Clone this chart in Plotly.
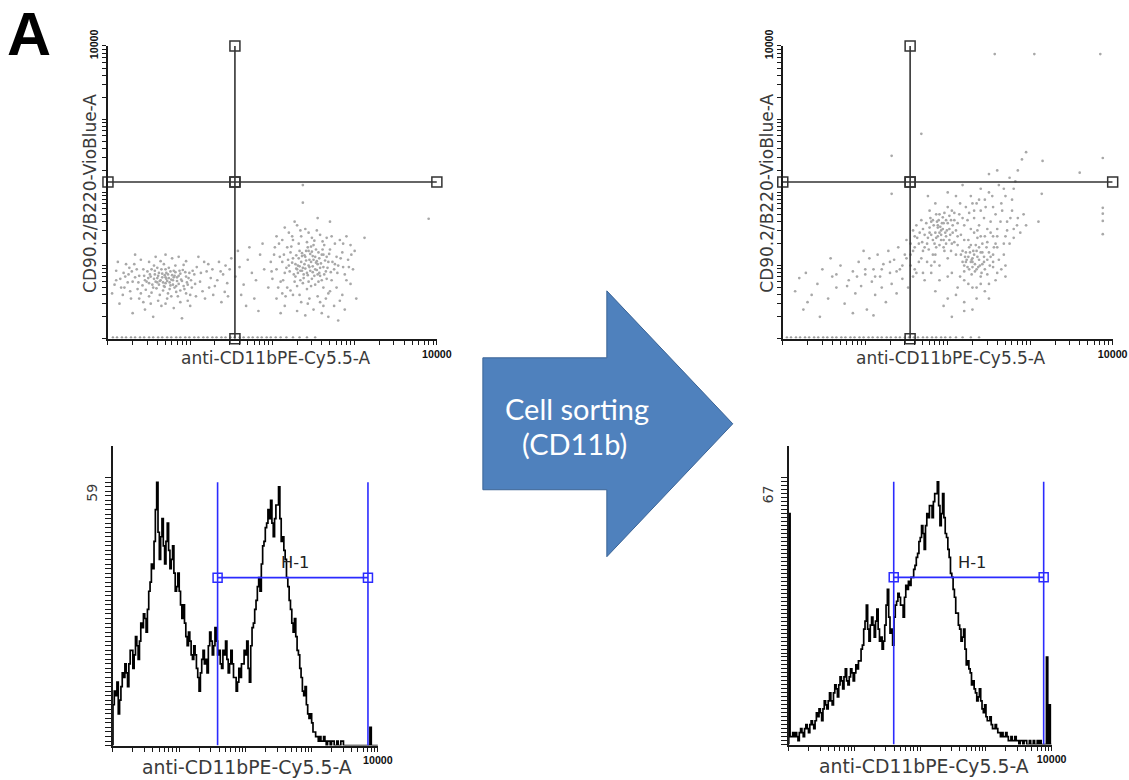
import numpy as np
import plotly.graph_objects as go

W, H = 1129, 780

# ---------------- data ----------------
# flow-cytometry events, (log10 CD11b, log10 CD90.2/B220)
before_events = [
    (0.45,0.80),(0.52,0.85),(0.58,0.78),(0.62,0.90),(0.66,0.84),(0.70,0.76),(0.73,0.88),(0.77,0.81),
    (0.80,0.93),(0.83,0.72),(0.86,0.86),(0.90,0.79),(0.94,0.91),(0.98,0.83),(0.55,0.70),(0.60,0.97),
    (0.68,1.02),(0.75,0.68),(0.82,1.00),(0.88,0.66),(0.48,0.92),(0.42,0.73),(0.38,0.86),(0.35,0.95),
    (0.30,0.78),(0.25,0.88),(0.20,0.70),(0.15,0.82),(0.10,0.93),(0.08,0.74),(0.18,0.60),(0.28,0.55),
    (0.40,0.62),(0.50,0.58),(0.63,0.60),(0.72,0.55),(0.85,0.58),(0.95,0.62),(1.02,0.70),(1.05,0.88),
    (1.08,0.98),(1.12,0.78),(1.15,0.65),(1.20,0.92),(1.25,0.83),(1.30,0.72),(1.35,1.05),(1.40,0.88),
    (1.45,0.76),(1.48,0.95),(0.65,0.45),(0.45,0.40),(0.80,0.42),(0.30,0.35),(1.00,0.45),(0.22,1.02),
    (0.40,1.08),(0.58,1.12),(0.78,1.10),(0.95,1.06),(1.10,1.12),(0.33,1.15),(0.12,1.05),(0.62,0.74),
    (0.70,0.95),(0.57,0.88),(0.79,0.74),(0.92,0.72),(0.67,0.66),(0.53,0.95),(0.74,0.83),(0.60,0.83),
    (0.84,0.79),(0.50,0.76),(0.69,0.87),(0.87,0.93),(0.44,0.86),(0.96,0.77),(1.18,0.55),(1.28,0.60),
    (0.05,0.62),(0.14,0.48),(0.55,0.30),(0.90,0.28),(1.38,0.50),(0.36,0.68),(0.26,0.97),(1.22,1.02),
    (1.42,0.64),(1.50,1.10),(0.64,0.80),(0.71,0.82),(0.76,0.92),(0.56,0.82),(0.81,0.86),(0.68,0.72),
    (0.47,0.78),(0.51,0.88),(0.54,0.74),(0.57,0.93),(0.59,0.69),(0.61,0.86),(0.63,0.79),(0.65,0.95),
    (0.67,0.77),(0.69,0.71),(0.71,0.90),(0.72,0.79),(0.74,0.97),(0.76,0.73),(0.78,0.87),(0.79,0.80),
    (0.81,0.70),(0.82,0.91),(0.84,0.84),(0.86,0.75),(0.88,0.89),(0.89,0.81),(0.91,0.94),(0.93,0.68),
    (0.95,0.85),(0.97,0.74),(0.99,0.90),(1.01,0.80),(1.03,0.93),(1.06,0.75),(0.43,0.95),(0.46,0.67),
    (0.49,0.83),(0.53,0.63),(0.56,1.00),(0.64,1.06),(0.73,0.62),(0.83,0.64),(0.92,1.01),(1.00,0.60),
    (0.37,0.77),(0.33,0.84),(0.29,0.92),(0.24,0.77),(0.19,0.90),(0.60,0.77),(0.70,0.84),(0.80,0.84),
    (0.66,0.89),(0.75,0.77),
    (0.10,0.80),(0.16,0.70),(0.21,0.85),(0.27,0.65),(0.32,1.02),(0.38,0.55),(0.43,0.50),(0.52,0.48),
    (0.61,0.52),(0.70,0.48),(0.77,0.58),(0.88,0.50),(0.97,0.52),(1.07,0.58),(1.13,0.90),(1.17,1.05),
    (1.23,0.70),(1.27,0.95),(1.33,0.80),(1.37,0.92),(1.43,1.00),(1.46,0.58),(0.50,1.05),(0.86,1.12),
    (0.70,1.15),
    (1.55,0.85),(1.60,0.98),(1.65,0.74),(1.70,1.08),(1.75,0.90),(1.80,0.80),(1.85,1.15),(1.90,0.95),
    (1.62,0.60),(1.78,0.55),(1.95,0.70),(1.58,1.20),(1.72,1.25),(1.88,1.30),(1.68,0.45),(1.83,0.38),
    (1.98,1.05),
    (2.20,1.00),(2.25,1.10),(2.30,0.95),(2.35,1.05),(2.40,1.12),(2.45,0.98),(2.50,1.08),(2.55,1.02),
    (2.60,1.15),(2.65,0.92),(2.28,0.85),(2.38,0.88),(2.48,0.82),(2.58,0.86),(2.68,1.05),(2.33,1.20),
    (2.43,1.25),(2.53,1.22),(2.63,1.28),(2.22,1.18),(2.15,0.90),(2.12,1.05),(2.10,0.78),(2.18,0.70),
    (2.30,0.72),(2.42,0.68),(2.52,0.74),(2.62,0.70),(2.72,0.80),(2.75,0.95),(2.78,1.12),(2.70,1.22),
    (2.80,1.00),(2.85,1.18),(2.88,0.88),(2.92,1.08),(2.95,1.28),(2.05,0.95),(2.02,1.15),(2.00,0.82),
    (2.08,1.30),(2.25,1.35),(2.35,1.40),(2.48,1.38),(2.58,1.42),(2.20,1.45),(2.30,1.55),(2.40,1.50),
    (2.15,1.52),(2.27,1.60),(2.45,0.55),(2.35,0.50),(2.55,0.58),(2.25,0.60),(2.65,0.55),(2.15,0.45),
    (2.50,0.40),(2.40,0.32),(2.60,0.35),(2.75,0.45),(2.05,0.55),(2.85,0.60),(2.95,0.75),(2.98,0.95),
    (2.37,0.97),(2.47,1.05),(2.42,0.90),(2.52,0.95),(2.57,1.10),(2.32,1.10),(2.46,1.16),(2.39,1.02),
    (2.55,0.88),(2.44,0.78),(2.62,0.98),(2.34,0.80),(2.28,1.02),(2.50,1.28),(2.66,1.12),(2.60,0.80),
    (2.70,0.65),(2.18,1.25),(2.12,0.62),(2.82,1.35),(2.90,1.40),(2.72,1.40),(2.05,1.40),(2.10,0.35),
    (2.30,0.38),(2.68,0.30),(2.80,0.25),(2.88,0.40),(3.00,1.20),(3.02,0.55),(2.41,1.07),(2.49,1.13),
    (2.36,0.93),(2.53,1.04),(2.44,1.20),(2.31,1.00),
    (2.21,0.92),(2.24,1.04),(2.26,0.88),(2.29,1.14),(2.31,0.90),(2.33,0.99),(2.36,1.13),(2.38,0.83),
    (2.40,0.96),(2.41,1.20),(2.43,0.87),(2.45,1.08),(2.46,0.93),(2.48,1.19),(2.49,0.99),(2.51,0.86),
    (2.52,1.12),(2.54,0.94),(2.56,1.18),(2.57,0.90),(2.59,1.03),(2.61,1.22),(2.63,0.88),(2.64,1.07),
    (2.67,0.97),(2.69,1.16),(2.71,0.91),(2.73,1.05),(2.23,1.26),(2.27,0.78),(2.32,1.30),(2.37,0.76),
    (2.42,1.32),(2.47,0.72),(2.51,1.34),(2.56,0.78),(2.61,1.33),(2.66,0.82),(2.19,1.08),(2.17,0.97),
    (2.14,1.15),(2.76,1.02),(2.79,0.90),(2.83,1.10),(2.86,0.98),(2.39,1.14),(2.44,1.00),(2.34,0.93),
    (2.54,1.06),(2.49,0.91),(2.58,0.97),(2.29,0.96),(2.62,1.15),(2.47,1.26),(2.36,1.17),
    (2.07,0.70),(2.13,0.80),(2.22,0.66),(2.33,0.60),(2.43,0.48),(2.58,0.50),(2.68,0.62),(2.78,0.70),
    (2.90,0.80),(2.93,0.98),(2.96,1.15),(2.86,1.30),(2.76,1.30),(2.66,1.38),(2.54,1.48),(2.44,1.45),
    (2.34,1.48),(2.24,1.40),(2.12,1.35),(2.03,1.25),(1.99,0.92),(2.09,1.12),(2.16,0.58),(2.62,0.45),
    (2.82,0.52),
    (2.37,2.10),(2.37,1.86),(3.90,1.64),(3.12,1.38),(2.70,1.60),(2.55,1.65),
]
before_baseline_cd11b = [0.06,0.11,0.17,0.22,0.28,0.33,0.39,0.44,0.50,0.55,0.61,0.66,0.72,0.77,0.83,
                         0.88,0.94,0.99,1.05,1.10,1.16,1.21,1.27,1.32,1.38,1.43,1.49,1.54,1.60,1.65,
                         1.71,1.76,1.82,1.87,1.93,1.98,2.04,2.10,2.17,2.25,2.33,2.42,2.52]

after_events = [
    (0.20,0.83),(0.28,0.90),(0.35,0.60),(0.42,0.75),(0.48,0.95),(0.55,0.55),(0.60,0.85),(0.65,0.70),
    (0.70,1.00),(0.75,0.48),(0.80,0.80),(0.85,0.92),(0.88,0.62),(0.92,1.05),(0.95,0.72),(1.00,0.88),
    (1.02,0.40),(1.05,1.10),(1.08,0.78),(1.10,0.95),(1.12,0.60),(1.15,1.15),(1.18,0.85),(1.20,0.70),
    (1.22,1.02),(1.25,0.50),(1.28,1.20),(1.30,0.90),(1.32,0.75),(1.35,1.08),(1.38,0.62),(1.40,1.25),
    (1.42,0.95),(1.45,0.82),(1.48,1.15),(1.50,1.35),(1.52,0.70),(0.45,0.30),(0.85,0.35),(1.10,0.32),
    (0.30,0.50),(0.58,1.10),(0.98,1.20),(0.15,0.65),(0.25,0.40),
    (1.55,1.00),(1.58,1.20),(1.60,1.40),(1.62,0.90),(1.65,1.30),(1.68,1.10),(1.70,1.50),(1.72,1.25),
    (1.75,1.05),(1.78,1.45),(1.80,1.60),(1.82,1.35),(1.85,1.15),(1.88,1.55),(1.90,1.70),(1.92,1.42),
    (1.95,1.25),(1.98,1.62),(2.00,1.80),(2.02,1.50),(2.05,1.30),(2.08,1.72),(2.10,1.15),(2.12,1.40),
    (2.15,1.85),(2.18,1.20),(2.20,1.55),(2.22,1.05),(2.25,1.35),(2.28,1.95),(2.30,1.10),(2.32,1.45),
    (2.35,0.95),(2.38,1.25),(2.40,1.75),(2.42,1.02),(2.45,1.40),(2.48,0.88),(2.50,1.18),(2.52,1.60),
    (2.55,0.98),(2.58,1.30),(2.60,1.50),(2.62,1.08),(2.65,1.85),(1.88,1.52),(1.92,1.48),(1.95,1.58),
    (1.85,1.45),(1.98,1.40),(2.25,1.12),(2.28,1.05),(2.32,1.15),(2.35,1.20),(2.22,1.18),(2.30,0.98),
    (2.38,1.08),(2.20,1.00),(1.75,1.30),(1.70,1.20),(1.65,1.05),(1.60,0.95),(1.72,0.80),(1.80,0.90),
    (1.90,1.00),(2.00,1.10),(2.05,0.90),(2.15,0.85),(2.25,0.75),(2.35,0.70),(2.45,0.65),(2.10,0.60),
    (2.20,0.50),(2.30,0.40),(1.95,0.45),(2.05,0.30),(2.40,0.85),(2.50,0.75),(2.55,1.40),(2.60,1.25),
    (2.68,1.15),(2.70,1.40),(2.72,1.60),(2.75,1.30),(2.78,1.75),(2.80,1.50),(2.85,1.65),(2.88,1.45),
    (2.92,1.70),(2.95,1.55),(2.45,1.90),(2.50,2.00),(2.55,1.80),(2.35,1.85),(2.40,2.05),(2.62,2.10),
    (2.70,1.95),(2.75,2.20),(2.80,2.05),(2.85,2.30),(2.90,2.45),(2.95,2.55),(2.60,2.30),(2.50,2.25),
    (2.10,1.95),(2.00,2.00),(2.18,2.10),(1.85,1.85),(1.78,1.75),(1.68,1.62),(1.62,1.55),(1.58,1.48),
    (1.55,1.30),(2.48,1.50),(2.42,1.30),(2.38,1.55),(2.32,1.65),(2.26,1.72),(2.18,1.65),(2.12,1.58),
    (2.06,1.45),(2.02,1.35),(1.96,1.20),(1.90,1.28),(1.84,1.05),(2.44,1.12),(2.36,1.38),(2.28,1.50),
    (2.55,1.15),(2.65,0.95),(2.70,0.85),(2.58,0.80),(1.91,1.53),(1.87,1.60),(2.29,1.08),(2.33,1.02),
    (2.26,0.95),(1.94,1.66),(2.04,1.62),(2.40,1.18),
    (1.80,1.42),(1.83,1.55),(1.86,1.38),(1.89,1.62),(1.92,1.35),(1.94,1.50),(1.97,1.45),(2.00,1.58),
    (2.03,1.42),(2.06,1.55),(1.82,1.62),(1.86,1.70),(1.90,1.45),(1.93,1.58),(1.96,1.72),(1.99,1.48),
    (2.02,1.68),(1.78,1.52),(1.76,1.38),(1.84,1.30),(1.88,1.40),(2.08,1.62),(2.10,1.48),(1.95,1.35),
    (2.05,1.75),
    (2.18,1.05),(2.21,1.12),(2.24,0.98),(2.27,1.18),(2.30,1.05),(2.33,0.92),(2.36,1.12),(2.39,1.00),
    (2.42,1.18),(2.45,0.95),(2.48,1.08),(2.51,1.00),(2.20,0.92),(2.26,1.25),(2.34,1.28),(2.41,0.90),
    (2.47,1.25),(2.52,1.12),(2.23,1.08),(2.31,1.20),(2.37,0.98),(2.44,1.05),(2.29,0.88),(2.16,1.15),
    (2.55,1.05),
    (1.50,1.10),(1.55,1.15),(1.60,1.25),(1.63,1.38),(1.66,1.45),(1.69,1.32),(1.72,1.42),(1.74,1.58),
    (1.77,1.22),(1.79,1.65),(1.82,1.15),(1.86,1.25),(1.98,1.30),(2.04,1.20),(2.08,1.32),(2.12,1.28),
    (2.14,1.70),(2.16,1.42),(2.20,1.35),(2.24,1.62),(2.28,1.28),(2.32,1.75),(2.36,1.48),(2.40,1.40),
    (2.44,1.65),(2.48,1.32),(2.52,1.45),(2.56,1.25),(2.60,1.40),(2.64,1.60),(2.68,1.30),(2.72,1.48),
    (2.76,1.65),(2.80,1.38),(2.84,1.55),(2.38,1.90),(2.30,1.85),(2.22,1.80),(2.46,1.80),(2.58,1.70),
    (2.66,1.75),(2.54,1.95),(2.68,2.05),(2.78,1.90),(2.82,2.15),(2.20,0.80),(2.30,0.70),(2.40,0.75),
    (2.12,0.70),(2.00,0.85),(1.90,0.80),(1.80,1.00),(1.70,0.90),(1.58,0.85),(1.45,1.00),(1.38,0.92),
    (1.30,1.05),(1.20,0.95),(1.12,0.85),(1.00,0.95),(0.90,0.85),(0.78,0.72),(0.65,0.88),(2.50,0.55),
    (2.35,0.55),(2.20,0.38),(2.00,0.55),(1.85,0.65),(2.60,0.90),(2.70,1.00),
    (2.57,3.89),(3.05,3.89),(3.85,3.89),(3.88,2.47),(3.88,1.79),(3.88,1.71),(3.88,1.61),(3.88,1.43),
    (1.68,2.80),(1.32,2.50),(3.60,2.27),(3.15,2.43),(1.32,1.98),(1.76,1.95),(3.14,1.98),(3.10,1.60),
]
after_baseline_cd11b = [0.05,0.10,0.16,0.21,0.27,0.32,0.38,0.43,0.49,0.54,0.60,0.65,0.71,0.76,0.82,
                        0.87,0.93,0.98,1.04,1.09,1.15,1.20,1.26,1.31,1.37,1.42,1.48,1.53,1.59,1.64,
                        1.70,1.75,1.81,1.86,1.92,1.97,2.03,2.10,2.18,2.28,2.38]
baseline_log_cd90 = 0.02

# quadrant gate (channel values)
quad_gate_cd11b = 35
quad_gate_cd90 = 139

# histograms: counts in 200 equal log-width bins between 10^0 and 10^4
hist_before_counts = [
    9,12, 11,14, 7,10, 13,16, 15,18, 16,13, 18,21, 21,17, 20,24, 22,19,
    23,27, 26,29, 28,25, 30,34, 36,40, 39,45, 52,58, 47,41, 46,50, 44,40,
    45,49, 43,39, 41,44, 38,34, 35,38, 34,31, 28,31, 27,24, 22,25, 23,20,
    19,22, 20,17, 15,12, 16,19, 21,18, 19,16, 22,25, 23,20, 22,26, 23,20,
    21,18, 17,21, 20,23, 19,16, 18,21, 18,15, 15,12, 14,17, 15,18, 18,21,
    20,23, 17,14, 22,26, 27,30, 32,35, 37,34, 40,44, 45,48, 49,52, 50,54,
    49,46, 50,53, 53,57, 50,45, 46,43, 41,37, 35,32, 30,27, 25,28, 24,21,
    20,17, 15,12, 11,13, 9,7, 6,7, 5,3, 3,2, 2,1, 2,1, 1,2,
    1,0, 1,1, 0,1, 1,0, 0,1, 0,0, 1,1, 0,0, 0,0, 0,0,
    0,0, 0,0, 0,0, 0,0, 0,0, 0,0, 0,0, 4,0, 0,0, 0,0,
]
hist_after_counts = [
    58,2, 2,3, 2,3, 2,1, 3,4, 3,2, 4,5, 4,3, 5,6, 5,4,
    6,8, 7,9, 8,6, 9,11, 10,9, 11,13, 11,10, 13,15, 14,12, 15,17,
    16,14, 17,19, 16,15, 17,19, 18,16, 18,20, 19,21, 21,24, 25,29, 31,35,
    29,26, 30,32, 30,27, 31,34, 29,26, 27,24, 26,30, 35,39, 32,28, 29,25,
    32,35, 36,38, 37,35, 35,32, 37,40, 39,41, 40,42, 42,44, 45,47, 48,51,
    52,55, 53,49, 55,58, 57,60, 60,57, 61,63, 63,66, 60,55, 58,63, 57,53,
    52,49, 47,43, 42,39, 37,33, 33,30, 29,26, 27,29, 24,20, 21,19, 18,15,
    16,14, 13,11, 12,14, 11,9, 8,10, 7,6, 6,7, 5,4, 4,5, 4,3,
    3,2, 3,2, 2,3, 2,1, 1,2, 1,1, 2,1, 1,0, 1,1, 0,1,
    1,0, 0,1, 0,0, 1,0, 0,1, 0,1, 0,0, 0,0, 22,0, 10,0,
]
hist_before_max = 59
hist_after_max = 67
# histogram marker gates H-1: (low, high, level, top)
hist_before_gate = (38, 7080, 37, 58)
hist_after_gate = (39.5, 7550, 42, 66)

x_title = "anti-CD11bPE-Cy5.5-A"
y_title = "CD90.2/B220-VioBlue-A"
end_tick_label = "10000"
gate_label = "H-1"
arrow_lines = ["Cell sorting", "(CD11b)"]
panel_label = "A"

# ---------------- helpers ----------------
# the page is photographed slightly scaled (about 0.987 x 0.98) and 15 px lower;
# these converters map target picture pixels to paper fractions
SX, SY, OY = 0.987, 0.98, 15.0
FS = 1 / 0.983


def px(x):
    return (x / SX) / W


def py(y):
    return 1 - ((y - OY) / SY) / H


log_tick_vals = [m * 10 ** d for d in range(4) for m in range(1, 10)] + [10000]
log_tick_text = [""] * (len(log_tick_vals) - 1) + [end_tick_label]

DARK = "#1a1a1a"
GATE = "#333333"
BLUE = "#2b2bff"
DOT = "#a8a8a8"

fig = go.Figure()


def add_dotplot(events, baseline, xa, ya):
    fig.add_trace(go.Scatter(
        x=[10 ** e[0] for e in events], y=[10 ** e[1] for e in events],
        mode="markers", marker=dict(size=2.7, color=DOT),
        xaxis=xa, yaxis=ya, showlegend=False, hoverinfo="skip"))
    fig.add_trace(go.Scatter(
        x=[10 ** b for b in baseline], y=[10 ** baseline_log_cd90] * len(baseline),
        mode="markers", marker=dict(size=2.4, color="#9a9a9a"),
        xaxis=xa, yaxis=ya, showlegend=False, hoverinfo="skip"))
    sq = dict(symbol="square-open", size=10, color=GATE, line=dict(width=1.5, color=GATE))
    fig.add_trace(go.Scatter(
        x=[quad_gate_cd11b] * 3, y=[1, quad_gate_cd90, 10000],
        mode="lines+markers", line=dict(color=GATE, width=1.6), marker=sq,
        xaxis=xa, yaxis=ya, cliponaxis=False, showlegend=False, hoverinfo="skip"))
    fig.add_trace(go.Scatter(
        x=[1, quad_gate_cd11b, 10000], y=[quad_gate_cd90] * 3,
        mode="lines+markers", line=dict(color=GATE, width=1.6), marker=sq,
        xaxis=xa, yaxis=ya, cliponaxis=False, showlegend=False, hoverinfo="skip"))


def add_histogram(counts, gate, xa, ya):
    edges = np.logspace(0, 4, len(counts) + 1)
    xs = [edges[0]] + list(edges[:-1]) + [edges[-1], edges[-1]]
    ys = [0] + list(counts) + [counts[-1], 0]
    fig.add_trace(go.Scatter(
        x=xs, y=ys, mode="lines", line=dict(color="black", width=1.7, shape="hv"),
        xaxis=xa, yaxis=ya, showlegend=False, hoverinfo="skip", cliponaxis=False))
    lo, hi, level, top = gate
    for gx in (lo, hi):
        fig.add_trace(go.Scatter(
            x=[gx, gx], y=[0, top], mode="lines", line=dict(color=BLUE, width=1.6),
            xaxis=xa, yaxis=ya, showlegend=False, hoverinfo="skip", cliponaxis=False))
    fig.add_trace(go.Scatter(
        x=[lo, hi], y=[level, level], mode="lines+markers",
        line=dict(color=BLUE, width=1.6),
        marker=dict(symbol="square-open", size=9, color=BLUE, line=dict(width=1.5, color=BLUE)),
        xaxis=xa, yaxis=ya, showlegend=False, hoverinfo="skip", cliponaxis=False))


add_dotplot(before_events, before_baseline_cd11b, "x", "y")
add_dotplot(after_events, after_baseline_cd11b, "x2", "y2")
add_histogram(hist_before_counts, hist_before_gate, "x3", "y3")
add_histogram(hist_after_counts, hist_after_gate, "x4", "y4")

tickfont = dict(family="Liberation Sans, Arial", size=10.5 * FS, color="#111", weight="bold")


def log_axis(x0, x1, anchor, horizontal=True, y0=None, y1=None):
    d = dict(type="log", range=[0, 4], anchor=anchor, showline=True, linecolor=DARK,
             linewidth=2, ticks="outside", ticklen=4, tickwidth=1.2, tickcolor=DARK,
             tickvals=log_tick_vals, ticktext=log_tick_text, tickfont=tickfont,
             showgrid=False, zeroline=False)
    if horizontal:
        d["domain"] = [px(x0), px(x1)]
    else:
        d["domain"] = [py(y1), py(y0)]
        d["tickangle"] = -90
    return d


def count_axis(y0, y1, max_tick, top_px):
    span = max_tick * (y1 - y0) / (y1 - top_px)
    return dict(domain=[py(y1), py(y0)], range=[0, span], showline=True, linecolor=DARK,
                linewidth=2.2, ticks="outside", ticklen=6, tickwidth=1.2, tickcolor=DARK,
                tickvals=list(range(0, max_tick + 1)), ticktext=[""] * (max_tick + 1),
                showgrid=False, zeroline=False)


layout_axes = dict(
    xaxis=log_axis(108, 437, "y"),
    yaxis=log_axis(None, None, "x", horizontal=False, y0=45, y1=338),
    xaxis2=log_axis(783, 1113, "y2"),
    yaxis2=log_axis(None, None, "x2", horizontal=False, y0=45, y1=338),
    xaxis3=log_axis(113, 378, "y3"),
    yaxis3=count_axis(445, 745, hist_before_max, 477),
    xaxis4=log_axis(789, 1052, "y4"),
    yaxis4=count_axis(445, 744, hist_after_max, 477),
)
layout_axes["yaxis3"]["anchor"] = "x3"
layout_axes["yaxis4"]["anchor"] = "x4"

title_font = dict(family="DejaVu Sans, Verdana", size=16.7 * FS, color="#3a3a3a")
hist_title_font = dict(family="DejaVu Sans, Verdana", size=18.5 * FS, color="#3a3a3a")


def ann(text, x, y, font, angle=0):
    return dict(text=text, x=px(x), y=py(y), xref="paper", yref="paper", showarrow=False,
                xanchor="center", yanchor="middle", textangle=angle, font=font)


annotations = [
    ann(panel_label, 29, 33, dict(family="Liberation Sans, Arial", size=60 * FS, color="black", weight="bold")),
    ann(x_title, 276, 357, title_font),
    ann(y_title, 90, 192, title_font, -90),
    ann(x_title, 951, 357, title_font),
    ann(y_title, 767, 192, title_font, -90),
    ann(x_title, 247, 767, hist_title_font),
    ann(x_title, 924, 766, hist_title_font),
    ann(str(hist_before_max), 92, 492, dict(family="DejaVu Sans", size=14 * FS, color="#3a3a3a"), -90),
    ann(str(hist_after_max), 768, 494, dict(family="DejaVu Sans", size=14 * FS, color="#3a3a3a"), -90),
    ann(gate_label, 295, 562, dict(family="DejaVu Sans", size=16 * FS, color="#222")),
    ann(gate_label, 972, 562, dict(family="DejaVu Sans", size=16 * FS, color="#222")),
    ann(arrow_lines[0], 577, 408, dict(family="Lato, Open Sans", size=28.5 * FS, color="white")),
    ann(arrow_lines[1], 575, 443, dict(family="Lato, Open Sans", size=28.5 * FS, color="white")),
]

arrow_px = [(483, 357), (607, 357), (607, 290), (733, 423), (607, 556), (607, 489), (483, 489)]
path = "M " + " L ".join(f"{px(x):.5f},{py(y):.5f}" for x, y in arrow_px) + " Z"
shapes = [dict(type="path", path=path, xref="paper", yref="paper",
               fillcolor="#4F81BD", line=dict(color="#3B6496", width=1), layer="below")]

fig.update_layout(
    width=W, height=H, margin=dict(l=0, r=0, t=0, b=0),
    paper_bgcolor="white", plot_bgcolor="white", showlegend=False,
    annotations=annotations, shapes=shapes, **layout_axes)

fig.write_html("out.html")
